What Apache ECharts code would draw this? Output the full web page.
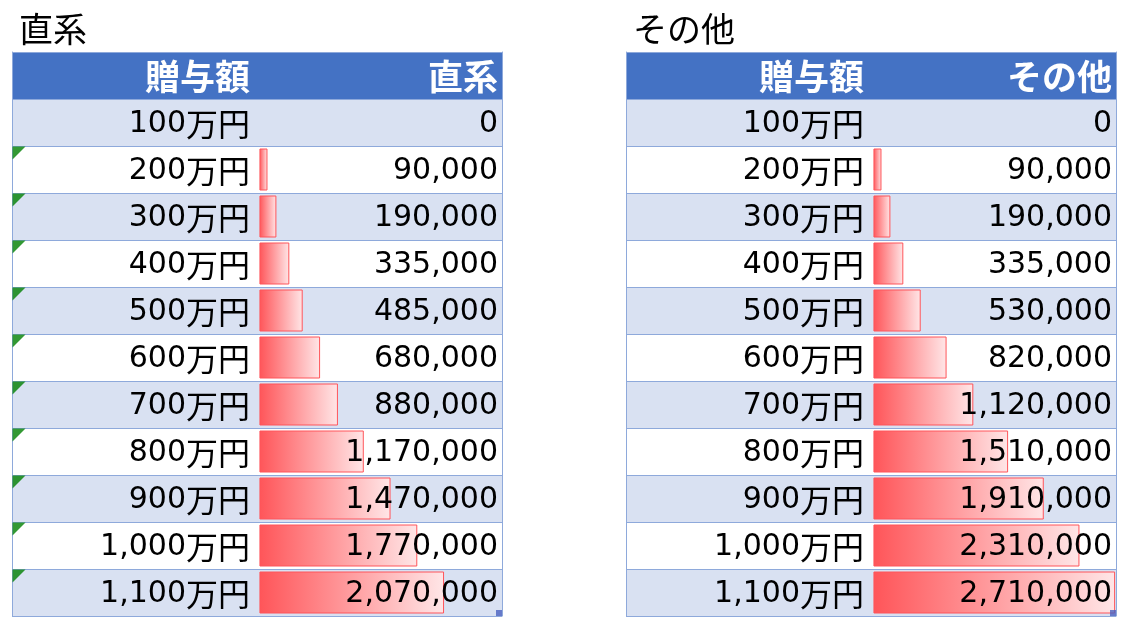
<!DOCTYPE html>
<html>
<head>
<meta charset="utf-8">
<script src="https://cdn.jsdelivr.net/npm/echarts@6/dist/echarts.min.js"></script>
<style>
  html, body { margin: 0; padding: 0; background: #fff; }
  #main { width: 1132px; height: 634px; }
</style>
</head>
<body>
<div id="main"></div>
<script>
// 表のデータ
var headerGift = '贈与額';
var giftAmounts = ['100万円', '200万円', '300万円', '400万円', '500万円', '600万円',
  '700万円', '800万円', '900万円', '1,000万円', '1,100万円'];
var tableNames = ['直系', 'その他'];
var directValues = [0, 90000, 190000, 335000, 485000, 680000, 880000, 1170000, 1470000, 1770000, 2070000];
var otherValues = [0, 90000, 190000, 335000, 530000, 820000, 1120000, 1510000, 1910000, 2310000, 2710000];
// 数値が文字列として保存されている行（緑の三角）
var directErrorRows = [1, 2, 3, 4, 5, 6, 7, 8, 9, 10];
var otherErrorRows = [];

var axisMin = -2775000;
var axisMax = 2720000;

var chart = echarts.init(document.getElementById('main'));

var lineColor = '#8EA9DB';
var rowColors = ['#4472C4'];
for (var r = 0; r < giftAmounts.length; r++) rowColors.push(r % 2 === 0 ? '#D9E1F2' : '#FFFFFF');

var rich = {
  h: { fontFamily: 'Noto Sans CJK JP', fontWeight: 'bold', fontSize: 35, color: '#fff', lineHeight: 40, opacity: 1 },
  n: { fontFamily: 'DejaVu Sans', fontSize: 30, color: '#000', lineHeight: 40, opacity: 1 },
  k: { fontFamily: 'Noto Sans CJK JP', fontSize: 32, color: '#000', lineHeight: 40, opacity: 1 }
};

function fmt(v) {
  return v.toLocaleString('en-US');
}

var option = {
  animation: false,
  title: [],
  grid: [],
  xAxis: [],
  yAxis: [],
  series: []
};

function addTable(idx, left, name, values, errorRows) {
  var cats = [headerGift].concat(giftAmounts);

  option.title.push({
    text: name,
    left: left + 7,
    top: 12,
    padding: 0,
    textStyle: { fontFamily: 'Noto Sans CJK JP', fontWeight: 'normal', fontSize: 34, color: '#000' }
  });

  option.grid.push({ left: left, top: 52, width: 490, height: 564, outerBoundsMode: 'none' });

  option.xAxis.push({
    type: 'value', gridIndex: idx, min: axisMin, max: axisMax, show: false
  });

  // 行の背景・罫線・贈与額の列
  option.yAxis.push({
    type: 'category', gridIndex: idx, inverse: true, data: cats, position: 'left',
    axisLine: { show: true, onZero: false, lineStyle: { color: lineColor } },
    axisTick: { show: false },
    axisLabel: {
      inside: true, margin: 238, align: 'right', interval: 0,
      padding: [3, 0, 0, 0],
      formatter: function (v, i) {
        if (i === 0) return '{h|' + v + '}';
        var m = v.match(/^([\d,]+)(.*)$/);
        return '{n|' + m[1] + '}{k|' + m[2] + '}';
      },
      rich: rich
    },
    splitLine: { show: true, interval: 0, lineStyle: { color: lineColor, width: 1 } },
    splitArea: { show: true, interval: 0, areaStyle: { color: rowColors } }
  });
  // 右の罫線
  option.yAxis.push({
    type: 'category', gridIndex: idx, inverse: true, data: cats, position: 'right',
    axisLine: { show: true, onZero: false, lineStyle: { color: lineColor } },
    axisTick: { show: false },
    axisLabel: { show: false },
    splitLine: { show: false }
  });

  // データバー
  option.series.push({
    type: 'bar',
    xAxisIndex: idx,
    yAxisIndex: idx * 2,
    barWidth: 42,
    silent: true,
    itemStyle: {
      color: new echarts.graphic.LinearGradient(0, 0, 1, 0, [
        { offset: 0, color: '#FF5559' },
        { offset: 1, color: '#FFE6E7' }
      ]),
      borderColor: '#FF555A',
      borderWidth: 1
    },
    data: ['-'].concat(values.map(function (v) {
      return v === 0 ? { value: 0, itemStyle: { borderWidth: 0 } } : v;
    }))
  });

  // 数値の列
  option.series.push({
    type: 'scatter',
    xAxisIndex: idx,
    yAxisIndex: idx * 2,
    symbolSize: 0,
    silent: true,
    z: 10,
    itemStyle: { color: '#000', opacity: 1 },
    label: {
      show: true, position: 'left', distance: 4,
      color: '#000', opacity: 1, textBorderWidth: 0,
      padding: [3, 0, 0, 0],
      formatter: function (p) {
        return p.dataIndex === 0 ? '{h|' + name + '}' : '{n|' + fmt(values[p.dataIndex - 1]) + '}';
      },
      rich: rich
    },
    data: cats.map(function (c, i) { return [axisMax, i]; })
  });

  // エラーインジケーター
  option.series.push({
    type: 'scatter',
    xAxisIndex: idx,
    yAxisIndex: idx * 2,
    symbol: 'path://M0,0L10,0L0,10Z',
    symbolSize: 13,
    symbolOffset: [7, -16.5],
    silent: true,
    z: 10,
    itemStyle: { color: '#008000' },
    data: errorRows.map(function (r) { return [axisMin, r + 1]; })
  });

  // テーブルのサイズ変更ハンドル
  option.series.push({
    type: 'scatter',
    xAxisIndex: idx,
    yAxisIndex: idx * 2,
    symbol: 'rect',
    symbolSize: 6,
    symbolOffset: [-3, 20.5],
    silent: true,
    z: 10,
    itemStyle: { color: '#4860BF' },
    data: [[axisMax, giftAmounts.length]]
  });
}

addTable(0, 12, tableNames[0], directValues, directErrorRows);
addTable(1, 626, tableNames[1], otherValues, otherErrorRows);

chart.setOption(option);
</script>
</body>
</html>
